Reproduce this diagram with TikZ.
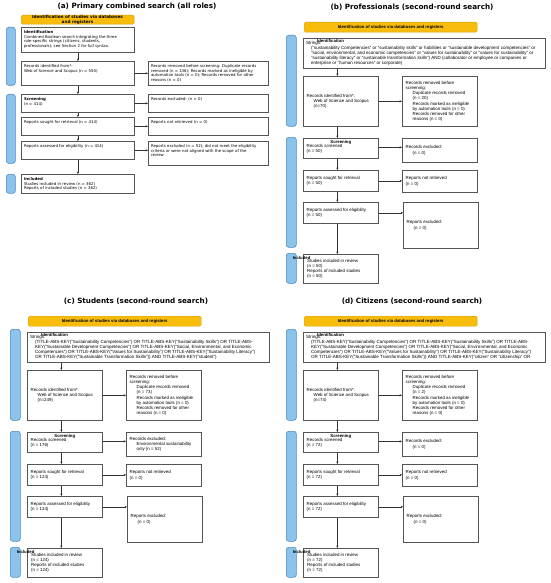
\documentclass[tikz,border=0pt]{standalone}
\usepackage{fontspec}
\setmainfont{Liberation Sans}
\newfontfamily\dejavu{DejaVu Sans}
\usetikzlibrary{arrows.meta}
\definecolor{hdr}{HTML}{F8BC0C}
\definecolor{barfill}{HTML}{8CC3EB}
\definecolor{barline}{HTML}{4A8CC4}
\definecolor{boxline}{HTML}{555555}
\newcommand\myind{\hspace*{7pt}}
\newcommand\mysind{\hspace*{5pt}}
\newcommand\bx[6]{\node[#6, anchor=north west, minimum width=#4pt, minimum height=#5pt] (#1) at (#2,#3) {};}
\newcommand\rpanel[9]{%
\begin{scope}[shift={#2}]
\node[ttl] (#1ttl) at (412,7) {#3};
\bx{#1hdr}{304}{22}{173}{10}{hdrst}
\node[lbl, font=\bfseries\fontsize{4.3}{4.8}\selectfont] (#1hdrt) at (#1hdr.center) {Identification of studies via databases and registers};
\bx{#1bar1}{286}{35}{10}{91}{barst}
\bx{#1bar2}{286}{137}{10}{110}{barst}
\bx{#1bar3}{286}{253}{10}{30}{barst}
\bx{#1str}{303}{38}{242}{30}{boxst}
\bx{#1rid}{303}{76}{75}{50}{boxst}
\bx{#1rem}{402}{76}{75}{50}{boxst}
\bx{#1scr}{303}{138}{75}{20}{boxst}
\bx{#1exc}{402}{138}{75}{24}{boxst}
\bx{#1sou}{303}{170}{75}{21}{boxst}
\bx{#1nr}{402}{170}{75}{22}{boxst}
\bx{#1ass}{303}{202}{75}{21}{boxst}
\bx{#1rex}{403}{202}{75}{46}{boxst}
\bx{#1inc}{303}{254}{75}{29}{boxst}
\node[stxt] (#1strt) at ([xshift=3pt]#1str.west) {Strings:\\#4};
\node[lbl] (#1idl) at ([xshift=27.5pt,yshift=-2.6pt]#1str.north west) {Identification};
\node[btxt] (#1ridt) at ([xshift=3.5pt]#1rid.west) {Records identified from*:\\\myind Web of Science and Scopus\\\myind(n=#5)};
\node[btxt] (#1remt) at ([xshift=3.5pt]#1rem.west) {Records removed before\\screening:\\\myind Duplicate records removed\\\myind(n = #6)\\\myind Records marked as ineligible\\\myind by automation tools (n = 0)\\\myind Records removed for other\\\myind reasons (n = 0)};
\node[btxt] (#1scrt) at ([xshift=3.5pt,yshift=-0.5pt]#1scr.west) {Records screened\\(n = #7)};
\node[lbl] (#1scrl) at ([yshift=-4.3pt]#1scr.north) {Screening};
\node[btxt] (#1exct) at ([xshift=3.5pt]#1exc.west) {#8};
\node[btxt] (#1sout) at ([xshift=3.5pt]#1sou.west) {Reports sought for retrieval\\(n = #9)};
\node[btxt] (#1nrt) at ([xshift=3.5pt]#1nr.west) {Reports not retrieved\\(n = 0)};
\node[btxt] (#1asst) at ([xshift=3.5pt]#1ass.west) {Reports assessed for eligibility\\(n = #9)};
\node[btxt] (#1rext) at ([xshift=3.5pt]#1rex.west) {Reports excluded:\\\myind(n = 0)};
\node[btxt] (#1inct) at ([xshift=4pt]#1inc.west) {Studies included in review\\(n = #9)\\Reports of included studies\\(n = #9)};
\node[lbl] (#1incl) at ([xshift=5pt,yshift=-4.5pt]#1bar3.north east) {Included};
\draw[arr] ([xshift=-3.5pt]#1rid.north |- #1str.south) -- ([xshift=-3.5pt]#1rid.north);
\draw[arr] ([xshift=-3.5pt]#1rid.south) -- ([xshift=-3.5pt]#1scr.north);
\draw[arr] ([xshift=-3.5pt]#1scr.south) -- ([xshift=-3.5pt]#1sou.north);
\draw[arr] ([xshift=-3.5pt]#1sou.south) -- ([xshift=-3.5pt]#1ass.north);
\draw[arr] ([xshift=-3.5pt]#1ass.south) -- ([xshift=-3.5pt]#1inc.north);
\draw[arr] (#1rid.east) -- (#1rid.east -| #1rem.west);
\draw[arr] ([yshift=1pt]#1scr.east) -- ([yshift=1pt]#1scr.east -| #1exc.west);
\draw[arr] (#1sou.east) -- (#1sou.east -| #1nr.west);
\draw[arr] (#1ass.east) -- (#1ass.east -| #1rex.west);
\end{scope}}
\begin{document}
\begin{tikzpicture}[x=1pt, y=-1pt,
 boxst/.style={draw=boxline, line width=0.7pt, inner sep=0pt, fill=white},
 barst/.style={draw=barline, fill=barfill, line width=0.6pt, rounded corners=2.5pt, inner sep=0pt},
 hdrst/.style={draw=hdr!85!black, fill=hdr, line width=0.4pt, rounded corners=1.5pt, inner sep=0pt},
 arr/.style={draw=black!80, line width=0.45pt, -{Stealth[length=2.4pt,width=2.2pt]}},
 ttl/.style={font=\dejavu\bfseries\fontsize{7.2}{8}\selectfont, inner sep=0pt},
 atxt/.style={font=\dejavu\fontsize{3.9}{4.9}\selectfont, align=left, inner sep=0pt, anchor=north west},
 btxt/.style={font=\fontsize{4.4}{5.2}\selectfont, align=left, inner sep=0pt, anchor=west},
 stxt/.style={font=\fontsize{4.5}{4.8}\selectfont, align=left, inner sep=0pt, anchor=west},
 lbl/.style={font=\bfseries\fontsize{4.3}{5}\selectfont, inner sep=0pt}]
\path[use as bounding box, fill=white] (0,0) rectangle (550,583);
% ---------- panel (a)
\node[ttl] (ta) at (137,7) {(a) Primary combined search (all roles)};
\bx{ahdr}{21}{15}{113}{9}{hdrst}
\node[font=\dejavu\bfseries\fontsize{4.2}{5}\selectfont, align=center, inner sep=0pt] (ahdrt) at (77.5,20) {Identification of studies via databases\\and registers};
\bx{abar1}{6}{27}{9}{58}{barst}
\bx{abar2}{6}{94}{9}{69}{barst}
\bx{abar3}{6}{174}{9}{19}{barst}
\bx{aid}{21}{27}{113}{25}{boxst}
\bx{arid}{21}{61}{113}{24}{boxst}
\bx{arem}{148}{61}{120}{24}{boxst}
\bx{ascr}{21}{94}{113}{18}{boxst}
\bx{aexc}{148}{94}{120}{18}{boxst}
\bx{asou}{21}{117}{113}{18}{boxst}
\bx{anr}{148}{117}{120}{18}{boxst}
\bx{aass}{21}{141}{113}{18}{boxst}
\bx{arex}{148}{141}{120}{24}{boxst}
\bx{ainc}{21}{174}{113}{19}{boxst}
\node[atxt] (aidt) at ([xshift=2.8pt,yshift=-3pt]aid.north west) {\textbf{Identification}\\Combined Boolean search integrating the three\\role-specific strings (citizens, students,\\professionals); see Section 2 for full syntax.};
\node[atxt] (aridt) at ([xshift=2.8pt,yshift=-3pt]arid.north west) {Records identified from*:\\Web of Science and Scopus (n = 550)};
\node[atxt] (aremt) at ([xshift=2.8pt,yshift=-3pt]arem.north west) {Records removed before screening: Duplicate records\\removed (n = 136); Records marked as ineligible by\\automation tools (n = 0); Records removed for other\\reasons (n = 0)};
\node[atxt] (ascrt) at ([xshift=2.8pt,yshift=-3pt]ascr.north west) {\textbf{Screening}\\(n = 414)};
\node[atxt] (aexct) at ([xshift=2.8pt,yshift=-3pt]aexc.north west) {Records excluded: (n = 0)};
\node[atxt] (asout) at ([xshift=2.8pt,yshift=-3pt]asou.north west) {Reports sought for retrieval (n = 414)};
\node[atxt] (anrt) at ([xshift=2.8pt,yshift=-3pt]anr.north west) {Reports not retrieved (n = 0)};
\node[atxt] (aasst) at ([xshift=2.8pt,yshift=-3pt]aass.north west) {Reports assessed for eligibility (n = 414)};
\node[atxt] (arext) at ([xshift=2.8pt,yshift=-3pt]arex.north west) {Reports excluded (n = 52); did not meet the eligibility\\criteria or were not aligned with the scope of the\\review};
\node[atxt] (ainct) at ([xshift=2.8pt,yshift=-3pt]ainc.north west) {\textbf{Included}\\Studies included in review (n = 362)\\Reports of included studies (n = 362)};
\draw[arr] (aid.south) -- (arid.north);
\draw[arr] (arid.south) -- (ascr.north);
\draw[arr] (ascr.south) -- (asou.north);
\draw[arr] (asou.south) -- (aass.north);
\draw[arr] (aass.south) -- (ainc.north);
\draw[arr] (arid.east) -- (arid.east -| arem.west);
\draw[arr] (ascr.east) -- (ascr.east -| aexc.west);
\draw[arr] (asou.east) -- (asou.east -| anr.west);
\draw[arr] (aass.east) -- (aass.east -| arex.west);
% ---------- panel (b)
\rpanel{b}{(0,0)}{(b) Professionals (second-round search)}%
{\mysind("sustainability Competencies" or "sustainability skills" or habilities or "sustainable development competencies" or\\\mysind"social, environmental, and economic competencies" or "values for sustainability" or "values for sustainability" or\\\mysind"sustainability literacy" or "sustainable transformation skills") AND (collaborator or employee or companies or\\\mysind enterprise or "human resources" or corporate)}%
{70}{20}{50}{Records excluded:\\\myind(n = 0)}{50}
% ---------- panel (c)
\rpanel{c}{(-276,294)}{(c) Students (second-round search)}%
{\mysind(TITLE-ABS-KEY("Sustainability Competencies") OR TITLE-ABS-KEY("Sustainability Skills") OR TITLE-ABS-\\\mysind KEY("Sustainable Development Competencies") OR TITLE-ABS-KEY("Social, Environmental, and Economic\\\mysind Competencies") OR TITLE-ABS-KEY("Values for Sustainability") OR TITLE-ABS-KEY("Sustainability Literacy")\\\mysind OR TITLE-ABS-KEY("Sustainable Transformation Skills")) AND TITLE-ABS-KEY("student")}%
{249}{73}{176}{Records excluded:\\\myind Environmental sustainability\\\myind only (n = 52)}{124}
% ---------- panel (d)
\rpanel{d}{(0,294)}{(d) Citizens (second-round search)}%
{\mysind(TITLE-ABS-KEY("Sustainability Competencies") OR TITLE-ABS-KEY("Sustainability Skills") OR TITLE-ABS-\\\mysind KEY("Sustainable Development Competencies") OR TITLE-ABS-KEY("Social, Environmental, and Economic\\\mysind Competencies") OR TITLE-ABS-KEY("Values for Sustainability") OR TITLE-ABS-KEY("Sustainability Literacy")\\\mysind OR TITLE-ABS-KEY("Sustainable Transformation Skills")) AND TITLE-ABS-KEY("citizen" OR "citizenship" OR}%
{74}{2}{72}{Records excluded:\\\myind(n = 0)}{72}
\end{tikzpicture}
\end{document}
